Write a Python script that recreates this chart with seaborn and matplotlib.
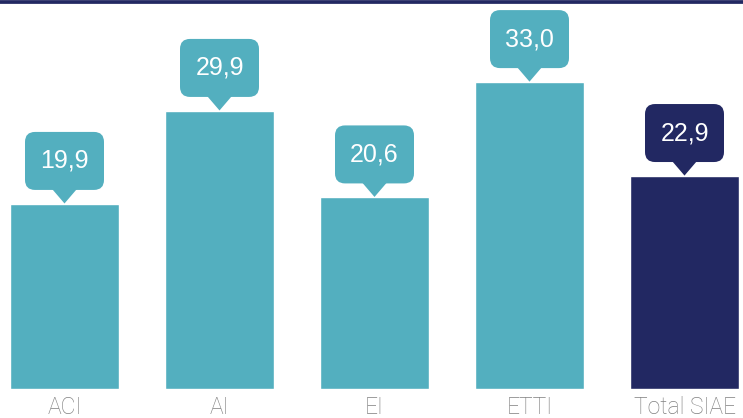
import matplotlib
matplotlib.use("Agg")
import matplotlib.pyplot as plt
import seaborn as sns
from matplotlib.patches import FancyBboxPatch, Polygon
from matplotlib.lines import Line2D

# Data
categories = ["ACI", "AI", "EI", "ETTI", "Total SIAE"]
values = [19.9, 29.9, 20.6, 33.0, 22.9]
labels = ["19,9", "29,9", "20,6", "33,0", "22,9"]

teal = "#53afbf"
navy = "#222862"
colors = [teal, teal, teal, teal, navy]

sns.set_style("white")
plt.rcParams["font.family"] = ["Liberation Sans", "DejaVu Sans"]

W, H = 743, 418
fig = plt.figure(figsize=(W / 100, H / 100), dpi=100)
ax = fig.add_axes([0, 29 / H, 1, 389 / H])

sns.barplot(x=categories, y=values, hue=categories, palette=colors,
            width=0.705, legend=False, ax=ax, saturation=1)

px_x = 155.0   # pixels per category
px_y = 9.3     # pixels per unit value
ax.set_xlim(-64.5 / px_x, 4 + (W - 684.5) / px_x)
ax.set_ylim(0, 389 / px_y)

# callouts
bw, bh, th, tw, r = 79, 58, 14, 28, 10
for i, (v, lab, c) in enumerate(zip(values, labels, colors)):
    y0 = v + th / px_y
    box = FancyBboxPatch((i - bw / 2 / px_x, y0), bw / px_x, bh / px_y,
                         boxstyle=f"round,pad=0,rounding_size={r / px_x}",
                         mutation_aspect=px_x / px_y,
                         fc=c, ec="none", zorder=3)
    ax.add_patch(box)
    tri = Polygon([(i - tw / 2 / px_x, y0 + 0.3), (i + tw / 2 / px_x, y0 + 0.3), (i, v + 0.05)],
                  closed=True, fc=c, ec="none", zorder=3)
    ax.add_patch(tri)
    ax.text(i, y0 + bh / 2 / px_y, lab, ha="center", va="center",
            color="white", fontsize=18, zorder=4)

for s in ax.spines.values():
    s.set_visible(False)
ax.set_yticks([])
ax.set_xlabel("")
ax.set_ylabel("")
ax.tick_params(axis="x", length=0, pad=5, colors="#808080")
for t in ax.get_xticklabels():
    t.set_fontfamily(["Roboto", "DejaVu Sans"])
    t.set_fontweight("light")
    t.set_fontsize(16.5)

fig.add_artist(Line2D([0, 1], [1 - 1.8 / H, 1 - 1.8 / H], color=navy, lw=2.7,
                      transform=fig.transFigure))

fig.savefig("out.png", dpi=100)
